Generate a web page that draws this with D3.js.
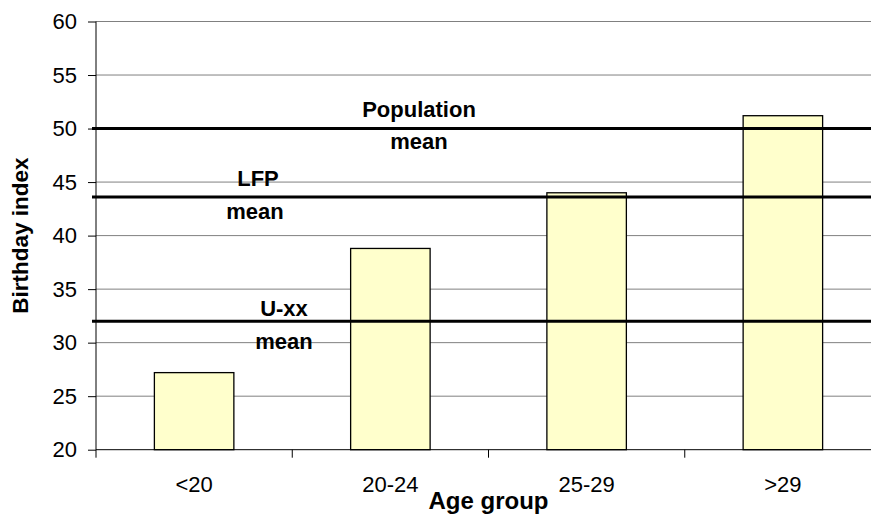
<!DOCTYPE html>
<html><head><meta charset="utf-8">
<script src="https://cdn.jsdelivr.net/npm/d3@7"></script>
<style>body{margin:0;background:#fff}svg{display:block}text{font-family:"Liberation Sans",Arial,sans-serif}</style>
</head><body>
<script>
const categories = ["<20", "20-24", "25-29", ">29"];
const values = [27.2, 38.8, 44.0, 51.2];
const yTicks = [20, 25, 30, 35, 40, 45, 50, 55, 60];
const meanNames = ["Population", "LFP", "U-xx"];
const meanValues = [50, 43.6, 32];

const W = 871, H = 515;
const svg = d3.select("body").append("svg").attr("width", W).attr("height", H);
const x0 = 96, x1 = 881, yTop = 21.5, yBot = 449.7;
const x = d3.scaleBand().domain(categories).range([x0, x1]).paddingInner(0.595).paddingOuter(0.2975);
const y = d3.scaleLinear().domain([20, 60]).range([yBot, yTop]);
const FF = '"Liberation Sans",Arial,sans-serif';

// gridlines
svg.append("g").selectAll("line").data(yTicks.slice(1)).join("line")
  .attr("x1", x0).attr("x2", W).attr("y1", d => y(d)).attr("y2", d => y(d))
  .attr("stroke", "#808080").attr("stroke-width", 1);

// bars
svg.append("g").selectAll("rect").data(values).join("rect")
  .attr("x", (d, i) => x(categories[i])).attr("width", x.bandwidth())
  .attr("y", d => y(d)).attr("height", d => y(20) - y(d))
  .attr("fill", "#FFFFCC").attr("stroke", "#000").attr("stroke-width", 1.3);

// y axis
const yAxis = svg.append("g").attr("transform", `translate(${x0},0)`)
  .call(d3.axisLeft(y).tickValues(yTicks).tickSize(8).tickPadding(11));
yAxis.select(".domain").attr("d", `M0,${yTop}V${yBot + 8}`).attr("stroke", "#000");
yAxis.selectAll("text").attr("font-size", 22).attr("fill", "#000").attr("font-family", FF);

// x axis
const xAxis = svg.append("g").attr("transform", `translate(0,${yBot})`)
  .call(d3.axisBottom(x).tickSize(0).tickPadding(27));
xAxis.select(".domain").attr("d", `M${x0},0H${W}`).attr("stroke", "#000");
xAxis.selectAll("text").attr("font-size", 22).attr("fill", "#000").attr("font-family", FF);
// boundary ticks
const step = x.step();
svg.append("g").selectAll("line").data(d3.range(1, categories.length + 1)).join("line")
  .attr("x1", i => x0 + i * step).attr("x2", i => x0 + i * step)
  .attr("y1", yBot).attr("y2", yBot + 8).attr("stroke", "#000");

// mean lines
svg.append("g").selectAll("line").data(meanValues).join("line")
  .attr("x1", x0 - 4).attr("x2", W).attr("y1", d => y(d)).attr("y2", d => y(d))
  .attr("stroke", "#000").attr("stroke-width", 3);

// mean labels
const labelX = [419, 258, 284];
const topOff = [12, 11, 5];
const botOff = [20, 22, 28];
const lab = svg.append("g").attr("font-weight", "bold").attr("font-size", 22).attr("text-anchor", "middle");
meanValues.forEach((v, i) => {
  lab.append("text").attr("x", labelX[i]).attr("y", y(v) - topOff[i]).text(meanNames[i]);
  lab.append("text").attr("x", labelX[i] - (i === 1 ? 3 : 0)).attr("y", y(v) + botOff[i]).text("mean");
});

// axis titles
svg.append("text").attr("transform", `translate(28,${(yTop + yBot) / 2}) rotate(-90)`)
  .attr("text-anchor", "middle").attr("font-weight", "bold").attr("font-size", 22.5).text("Birthday index");
svg.append("text").attr("x", x0 + 2 * step).attr("y", 509)
  .attr("text-anchor", "middle").attr("font-weight", "bold").attr("font-size", 24).text("Age group");
</script>
</body></html>
